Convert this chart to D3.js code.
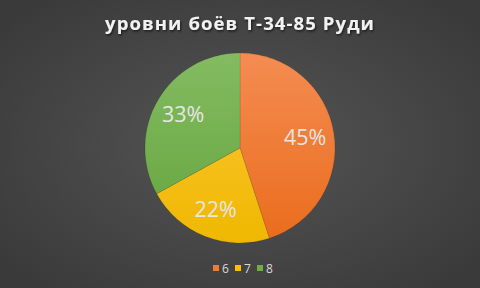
<!DOCTYPE html>
<html>
<head>
<meta charset="utf-8">
<script src="https://cdn.jsdelivr.net/npm/d3@7"></script>
<style>
  body { margin: 0; background: #404040; }
  svg { display: block; }
</style>
</head>
<body>
<svg width="480" height="288"></svg>
<script>
// chart data
var categories = ["6", "7", "8"];
var values = [45, 22, 33];
var colorsTop = ["#f48c52", "#ffc73c", "#84bb62"];
var colorsBottom = ["#ea6c1c", "#efb800", "#64a53c"];
var legendColors = ["#ed7d31", "#ffc000", "#70ad47"];

var svg = d3.select("svg"),
    width = +svg.attr("width"),
    height = +svg.attr("height");

var defs = svg.append("defs");

// background - subtle radial gradient
var bg = defs.append("radialGradient").attr("id", "bg")
  .attr("cx", "50%").attr("cy", "50%").attr("r", "65%");
bg.append("stop").attr("offset", "0%").attr("stop-color", "#555555");
bg.append("stop").attr("offset", "100%").attr("stop-color", "#3a3a3a");

svg.append("rect").attr("width", width).attr("height", height).attr("fill", "url(#bg)");

var cx = 240, cy = 148, radius = 95;

// slice gradients
categories.forEach(function (c, i) {
  var lg = defs.append("linearGradient").attr("id", "g" + i)
    .attr("gradientUnits", "userSpaceOnUse")
    .attr("x1", 0).attr("y1", -radius).attr("x2", 0).attr("y2", radius);
  lg.append("stop").attr("offset", "0%").attr("stop-color", colorsTop[i]);
  lg.append("stop").attr("offset", "100%").attr("stop-color", colorsBottom[i]);
});

var shadow = defs.append("filter").attr("id", "ts")
  .attr("x", "-10%").attr("y", "-30%").attr("width", "120%").attr("height", "160%");
shadow.append("feDropShadow").attr("dx", 1).attr("dy", 1.5).attr("stdDeviation", 1.2)
  .attr("flood-color", "#000").attr("flood-opacity", 0.6);

// title
svg.append("text")
  .attr("x", 240)
  .attr("y", 30)
  .attr("text-anchor", "middle")
  .attr("filter", "url(#ts)")
  .style("font-family", "Open Sans")
  .style("font-weight", "bold")
  .style("font-size", "18.5px")
  .style("letter-spacing", "1.1px")
  .style("fill", "#f2f2f2")
  .text("уровни боёв Т-34-85 Руди");

var pie = d3.pie().sort(null).value(function (d) { return d; });
var arcs = pie(values);
var total = d3.sum(values);

var arc = d3.arc().innerRadius(0).outerRadius(radius);
var labelArc = d3.arc().innerRadius(66).outerRadius(66);

var g = svg.append("g").attr("transform", "translate(" + cx + "," + cy + ")");

g.selectAll("path")
  .data(arcs)
  .enter()
  .append("path")
  .attr("d", arc)
  .attr("fill", function (d, i) { return "url(#g" + i + ")"; })
  .attr("stroke", "rgba(0,0,0,0.15)")
  .attr("stroke-width", 0.6);

g.selectAll("text.lbl")
  .data(arcs)
  .enter()
  .append("text")
  .attr("class", "lbl")
  .attr("transform", function (d) { return "translate(" + labelArc.centroid(d) + ")"; })
  .attr("text-anchor", "middle")
  .attr("dy", "0.36em")
  .style("font-family", "Open Sans")
  .style("font-size", "21.5px")
  .style("fill", "#e6e6e6")
  .text(function (d) { return Math.round(d.value / total * 100) + "%"; });

// legend
var legendX = [213, 235, 257];
var legend = svg.append("g");
categories.forEach(function (c, i) {
  legend.append("rect")
    .attr("x", legendX[i]).attr("y", 265)
    .attr("width", 6).attr("height", 6)
    .attr("fill", legendColors[i]);
  legend.append("text")
    .attr("x", legendX[i] + 9).attr("y", 272.5)
    .style("font-family", "Open Sans")
    .style("font-size", "12px")
    .style("fill", "#d9d9d9")
    .text(c);
});
</script>
</body>
</html>
